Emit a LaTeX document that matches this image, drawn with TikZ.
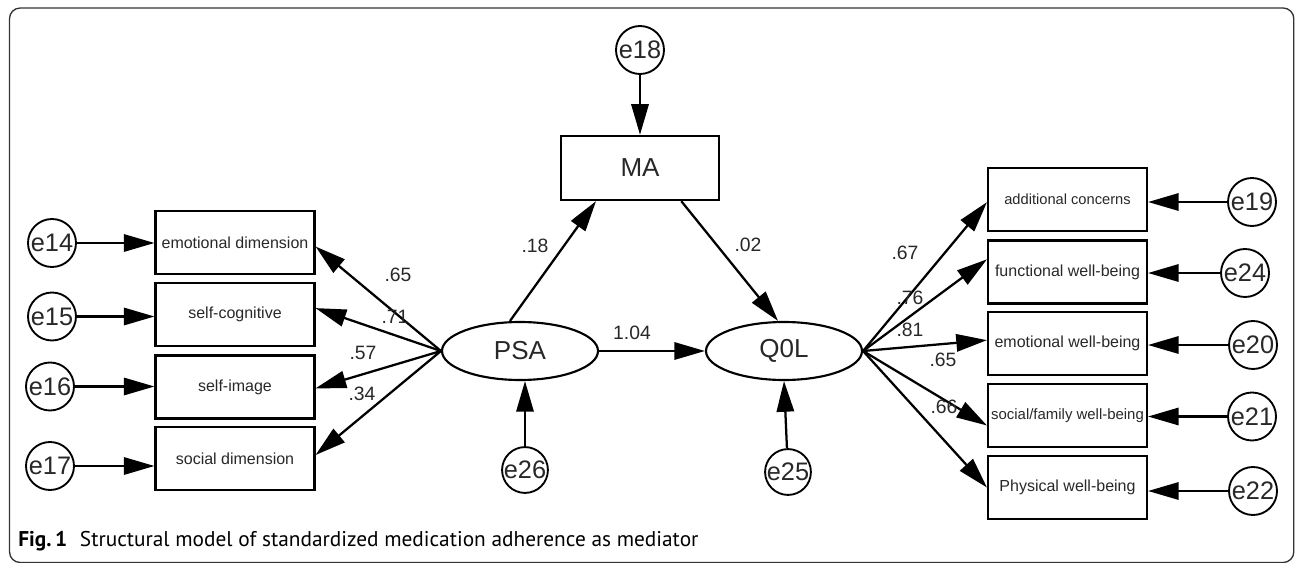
\documentclass[tikz,border=0pt]{standalone}
\usepackage{fontspec}
\setmainfont{Liberation Sans}
\newfontfamily\capfont{PT Sans}
\usetikzlibrary{arrows.meta}
\usetikzlibrary{shapes.geometric}
\usetikzlibrary{positioning}
\usetikzlibrary{calc}
\definecolor{txtgray}{RGB}{40,40,40}
\tikzset{
  errnode/.style={circle, draw, line width=1.4pt, minimum size=36pt, inner sep=0pt, text=txtgray, font=\fontsize{19}{19}\selectfont},
  obsbox/.style={rectangle, draw, line width=1.8pt, minimum width=119pt, minimum height=47pt, inner sep=0pt, text=txtgray, font=\fontsize{12}{12}\selectfont},
  latent/.style={ellipse, draw, line width=1.6pt, minimum width=117pt, minimum height=43.5pt, inner sep=0pt, text=txtgray, font=\fontsize{19.5}{19.5}\selectfont},
  patharrow/.style={line width=1.7pt, -{Triangle[length=23pt,width=13pt]}},
  coef/.style={inner sep=0pt, text=txtgray, font=\fontsize{14.5}{14.5}\selectfont}
}
\begin{document}
\begin{tikzpicture}[x=0.75pt,y=0.75pt,yscale=-1,xscale=1]
\useasboundingbox (0,0) rectangle (1295,563);
%frame
\draw [rounded corners=8pt, line width=1pt, black!80] (9.5,8) rectangle (1293.8,562.5);

%Latent variables
\node [latent] (psa) at (520,351) {PSA};
\node [latent] (qol) at (784,351) {Q0L};
%Mediator
\node [obsbox, minimum width=118.5pt, minimum height=48pt, font=\fontsize{19.5}{19.5}\selectfont] (ma) at (640,168) {MA};

%Left indicators
\node [obsbox] (lb1) at (235,242.5) {emotional dimension};
\node [obsbox] (lb2) at (235,314.5) {self-cognitive};
\node [obsbox] (lb3) at (235,387) {self-image};
\node [obsbox] (lb4) at (235,458.5) {social dimension};
%Right indicators
\node [obsbox, font=\fontsize{11}{11}\selectfont] (rb1) at (1067.5,199.5) {additional concerns};
\node [obsbox] (rb2) at (1067.5,272) {functional well-being};
\node [obsbox] (rb3) at (1067.5,343.5) {emotional well-being};
\node [obsbox, font=\fontsize{11.2}{11.2}\selectfont] (rb4) at (1067.5,415.5) {social/family well-being};
\node [obsbox] (rb5) at (1067.5,487.5) {Physical well-being};

%Error terms
\node [errnode] (e14) at (52,243) {e14};
\node [errnode] (e15) at (52,316.5) {e15};
\node [errnode] (e16) at (50,386.5) {e16};
\node [errnode] (e17) at (50,466) {e17};
\node [errnode] (e18) at (640,50) {e18};
\node [errnode, minimum size=34pt] (e26) at (525,470) {e26};
\node [errnode, minimum size=34pt] (e25) at (788,472) {e25};
\node [errnode] (e19) at (1252,202) {e19};
\node [errnode] (e24) at (1245,273) {e24};
\node [errnode] (e20) at (1253,345) {e20};
\node [errnode] (e21) at (1252,416.5) {e21};
\node [errnode] (e22) at (1253,491) {e22};

%Structural paths
\draw [patharrow] ([xshift=-7.5pt]psa.north) -- ([xshift=-33pt]ma.south);
\draw [patharrow] ([xshift=31pt]ma.south) -- ([xshift=-4.5pt]qol.north);
\draw [patharrow] (psa) -- (qol);
\draw [patharrow] (e18) -- (ma);
\draw [patharrow] (e26) -- (e26 |- psa.south);
\draw [patharrow] (e25) -- (qol.south);

%Loadings, left
\draw [patharrow] (psa.west) -- ([yshift=3pt]lb1.east);
\draw [patharrow] (psa.west) -- ([yshift=-4.8pt]lb2.east);
\draw [patharrow] (psa.west) -- ([yshift=1pt]lb3.east);
\draw [patharrow] (psa.west) -- ([yshift=-2.6pt]lb4.east);
%Loadings, right
\draw [patharrow] (qol.east) -- ([yshift=2pt]rb1.west);
\draw [patharrow] (qol.east) -- ([yshift=-9.5pt]rb2.west);
\draw [patharrow] (qol.east) -- ([yshift=-2.5pt]rb3.west);
\draw [patharrow] (qol.east) -- ([yshift=7.5pt]rb4.west);
\draw [patharrow] (qol.east) -- (rb5.west);

%Error arrows
\draw [patharrow] (e14) -- (e14 -| lb1.west);
\draw [patharrow] (e15) -- (e15 -| lb2.west);
\draw [patharrow] (e16) -- (e16 -| lb3.west);
\draw [patharrow] (e17) -- (e17 -| lb4.west);
\draw [patharrow] (e19) -- (e19 -| rb1.east);
\draw [patharrow] (e24) -- (e24 -| rb2.east);
\draw [patharrow] (e20) -- (e20 -| rb3.east);
\draw [patharrow] (e21) -- (e21 -| rb4.east);
\draw [patharrow] (e22) -- (e22 -| rb5.east);

%Coefficients
\node [coef] (c65l) at (398,275) {.65};
\node [coef] (c71) at (395,317) {.71};
\node [coef] (c57) at (363,353) {.57};
\node [coef] (c34) at (362,394) {.34};
\node [coef] (c18) at (535,246) {.18};
\node [coef] (c02) at (748,245) {.02};
\node [coef] (c104) at (632,333) {1.04};
\node [coef] (c67) at (905,253) {.67};
\node [coef] (c76) at (910,298) {.76};
\node [coef] (c81) at (910,330) {.81};
\node [coef] (c65r) at (943,360) {.65};
\node [coef] (c66) at (944,407) {.66};

%Caption
\node [anchor=base west, inner sep=0pt, font=\capfont\fontsize{16}{16}\selectfont] (cap) at (18,546) {\textbf{Fig.\,1}\hspace{0.6em}Structural model of standardized medication adherence as mediator};
\end{tikzpicture}
\end{document}
